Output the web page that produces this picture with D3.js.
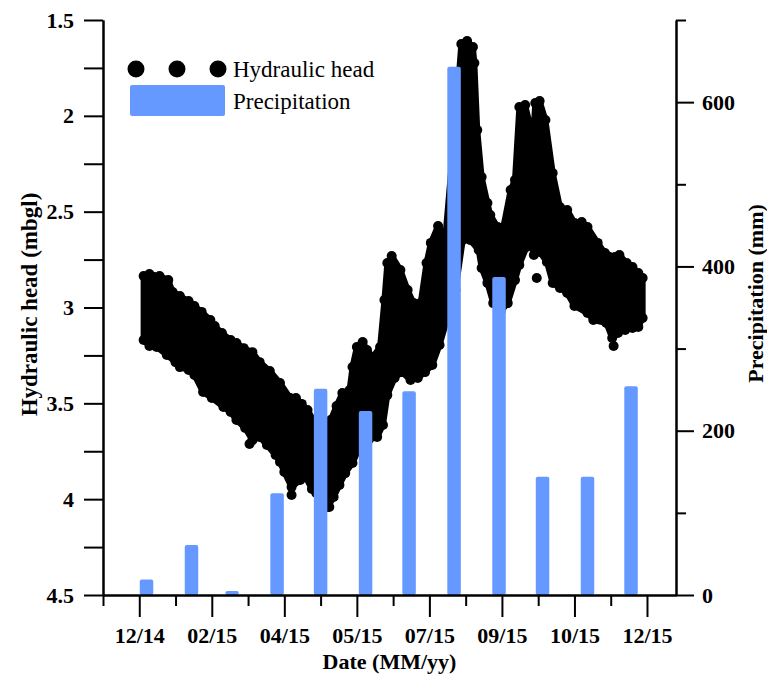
<!DOCTYPE html>
<html>
<head>
<meta charset="utf-8">
<script src="https://cdn.jsdelivr.net/npm/d3@7"></script>
<style>
  body { margin: 0; background: #fff; }
  svg text { font-family: "Liberation Serif", "Times New Roman", serif; }
</style>
</head>
<body>
<div id="chart"></div>
<script>
// monthly precipitation totals, dated at month end
const precipDates = ["2014-12-31", "2015-01-31", "2015-02-28", "2015-03-31", "2015-04-30", "2015-05-31",
    "2015-06-30", "2015-07-31", "2015-08-31", "2015-09-30", "2015-10-31", "2015-11-30"];
const precipValues = [19, 61, 5, 124, 251, 224, 248, 643, 387, 144, 144, 254];

// hydraulic head cloud: shallow edge (top of the band)
const headTopDates = ["2014-12-29", "2015-01-02", "2015-01-09", "2015-01-15", "2015-01-18", "2015-01-23",
    "2015-01-29", "2015-02-02", "2015-02-07", "2015-02-13", "2015-02-16", "2015-02-21", "2015-02-27",
    "2015-03-03", "2015-03-08", "2015-03-14", "2015-03-19", "2015-03-26", "2015-04-02", "2015-04-09",
    "2015-04-13", "2015-04-17", "2015-04-21", "2015-04-25", "2015-04-30", "2015-05-07", "2015-05-11",
    "2015-05-15", "2015-05-20", "2015-05-22", "2015-05-25", "2015-05-29", "2015-06-01", "2015-06-05",
    "2015-06-10", "2015-06-13", "2015-06-15", "2015-06-18", "2015-06-24", "2015-06-29", "2015-07-03",
    "2015-07-08", "2015-07-12", "2015-07-15", "2015-07-20", "2015-07-25", "2015-08-01", "2015-08-05",
    "2015-08-09", "2015-08-13", "2015-08-14", "2015-08-16", "2015-08-19", "2015-08-23", "2015-08-25",
    "2015-08-30", "2015-09-03", "2015-09-08", "2015-09-11", "2015-09-14", "2015-09-18", "2015-09-21",
    "2015-09-23", "2015-09-25", "2015-09-28", "2015-10-02", "2015-10-07", "2015-10-12", "2015-10-17",
    "2015-10-22", "2015-10-27", "2015-10-31", "2015-11-07", "2015-11-12", "2015-11-19", "2015-11-22",
    "2015-11-27", "2015-12-01", "2015-12-05", "2015-12-08"];
const headTopValues = [2.836, 2.825, 2.836, 2.857, 2.919, 2.940, 2.966, 2.992, 3.023, 3.065, 3.097, 3.133,
    3.170, 3.185, 3.212, 3.233, 3.285, 3.331, 3.394, 3.472, 3.472, 3.503, 3.535, 3.587, 3.618, 3.587,
    3.514, 3.446, 3.430, 3.310, 3.206, 3.180, 3.222, 3.258, 3.206, 2.961, 2.768, 2.731, 2.804, 2.909,
    2.976, 2.976, 2.768, 2.663, 2.575, 2.632, 2.022, 1.625, 1.610, 1.641, 1.724, 2.074, 2.319, 2.455,
    2.517, 2.580, 2.580, 2.387, 2.335, 1.954, 1.944, 2.037, 2.178, 1.933, 1.923, 2.022, 2.298, 2.476,
    2.491, 2.559, 2.554, 2.580, 2.663, 2.716, 2.737, 2.726, 2.768, 2.789, 2.820, 2.846];

// hydraulic head cloud: deep edge (bottom of the band)
const headLowDates = ["2014-12-29", "2015-01-02", "2015-01-07", "2015-01-14", "2015-01-20", "2015-01-23",
    "2015-01-29", "2015-02-02", "2015-02-08", "2015-02-14", "2015-02-22", "2015-02-27", "2015-03-03",
    "2015-03-09", "2015-03-14", "2015-03-19", "2015-03-24", "2015-03-30", "2015-04-02", "2015-04-05",
    "2015-04-10", "2015-04-16", "2015-04-19", "2015-04-24", "2015-04-27", "2015-05-01", "2015-05-05",
    "2015-05-09", "2015-05-13", "2015-05-17", "2015-05-22", "2015-05-27", "2015-06-02", "2015-06-08",
    "2015-06-12", "2015-06-15", "2015-06-20", "2015-06-25", "2015-07-01", "2015-07-06", "2015-07-11",
    "2015-07-16", "2015-07-21", "2015-07-26", "2015-08-01", "2015-08-06", "2015-08-11", "2015-08-17",
    "2015-08-19", "2015-08-23", "2015-08-27", "2015-09-01", "2015-09-06", "2015-09-11", "2015-09-14",
    "2015-09-19", "2015-09-21", "2015-09-24", "2015-09-28", "2015-10-03", "2015-10-07", "2015-10-12",
    "2015-10-17", "2015-10-22", "2015-10-31", "2015-11-04", "2015-11-13", "2015-11-17", "2015-11-21",
    "2015-11-26", "2015-12-01", "2015-12-05", "2015-12-08"];
const headLowValues = [3.170, 3.201, 3.206, 3.248, 3.285, 3.311, 3.326, 3.352, 3.441, 3.472, 3.519, 3.545,
    3.587, 3.629, 3.692, 3.676, 3.717, 3.770, 3.806, 3.858, 3.937, 3.900, 3.874, 3.947, 3.968, 4.030,
    4.041, 3.989, 3.926, 3.864, 3.811, 3.728, 3.691, 3.676, 3.613, 3.457, 3.368, 3.337, 3.378, 3.368,
    3.337, 3.300, 3.196, 3.065, 2.909, 2.648, 2.648, 2.700, 2.794, 2.872, 2.977, 3.023, 2.977, 2.857,
    2.778, 2.684, 2.627, 2.726, 2.710, 2.762, 2.872, 2.898, 2.924, 2.992, 3.029, 3.065, 3.081, 3.159,
    3.133, 3.117, 3.107, 3.102, 3.055];

// a few stray readings below the band
const headOutDates = ["2015-03-12", "2015-04-10", "2015-05-06", "2015-09-26", "2015-11-18"];
const headOutValues = [3.712, 3.978, 4.041, 2.846, 3.201];

const headTicks = [1.5, 2, 2.5, 3, 3.5, 4, 4.5];
const headMinor = [1.75, 2.25, 2.75, 3.25, 3.75, 4.25];
const precipTicks = [0, 200, 400, 600];
const precipMinor = [100, 300, 500, 700];
const dateTicks = ["2014-12-26", "2015-02-14", "2015-04-05", "2015-05-25", "2015-07-14", "2015-09-02",
    "2015-10-22", "2015-12-11"];
const dateMinor = ["2014-12-01", "2015-01-20", "2015-03-11", "2015-04-30", "2015-06-19", "2015-08-08",
    "2015-09-27", "2015-11-16"];
const dateTickLabels = ["12/14", "02/15", "04/15", "05/15", "07/15", "09/15", "10/15", "12/15"];

const parse = d3.timeParse("%Y-%m-%d");

const margin = { top: 20, right: 91, bottom: 85, left: 103 };
const W = 767, H = 680;
const width = W - margin.left - margin.right;
const height = H - margin.top - margin.bottom;

const svg = d3.select("#chart").append("svg")
    .attr("width", W)
    .attr("height", H);
const g = svg.append("g").attr("transform", `translate(${margin.left},${margin.top})`);

const x = d3.scaleTime()
    .domain([parse("2014-12-01"), parse("2015-12-31")])
    .range([0, width]);
const yHead = d3.scaleLinear().domain([1.5, 4.5]).range([0, height]);
const yPrec = d3.scaleLinear().domain([0, 700]).range([height, 0]);

// hydraulic head band
const topPts = headTopDates.map((d, i) => [parse(d), headTopValues[i]]);
const lowPts = headLowDates.map((d, i) => [parse(d), headLowValues[i]]);
const outPts = headOutDates.map((d, i) => [parse(d), headOutValues[i]]);

const bandLine = d3.line().x(d => x(d[0])).y(d => yHead(d[1]));
g.append("path")
    .attr("d", bandLine(topPts.concat(lowPts.slice().reverse())) + "Z")
    .attr("fill", "#000")
    .attr("stroke", "#000")
    .attr("stroke-width", 6)
    .attr("stroke-linejoin", "round");

g.selectAll(".dot")
    .data(topPts.concat(lowPts, outPts))
    .enter().append("circle")
    .attr("class", "dot")
    .attr("cx", d => x(d[0]))
    .attr("cy", d => yHead(d[1]))
    .attr("r", 5)
    .attr("fill", "#000");

// precipitation bars
const barW = 13.5;
g.selectAll(".bar")
    .data(precipDates.map((d, i) => [parse(d), precipValues[i]]))
    .enter().append("rect")
    .attr("class", "bar")
    .attr("x", d => x(d[0]) - barW / 2)
    .attr("y", d => yPrec(d[1]))
    .attr("width", barW)
    .attr("height", d => height - yPrec(d[1]))
    .attr("rx", 2)
    .attr("fill", "#6699ff");

// axes
function styleAxis(sel) {
    sel.selectAll("path, line").attr("stroke", "#000").attr("stroke-width", 2);
    sel.selectAll("text")
        .attr("fill", "#000")
        .style("font-size", "22px")
        .style("font-weight", "bold");
}

g.append("g")
    .call(d3.axisLeft(yHead).tickValues(headTicks).tickSize(19).tickSizeOuter(0)
        .tickPadding(10).tickFormat(d3.format("")))
    .call(styleAxis);
g.append("g")
    .call(d3.axisLeft(yHead).tickValues(headMinor).tickSize(19).tickSizeOuter(0).tickFormat(""))
    .call(styleAxis);

g.append("g")
    .attr("transform", `translate(${width},0)`)
    .call(d3.axisRight(yPrec).tickValues(precipTicks).tickSize(18).tickSizeOuter(0).tickPadding(8))
    .call(styleAxis);
g.append("g")
    .attr("transform", `translate(${width},0)`)
    .call(d3.axisRight(yPrec).tickValues(precipMinor).tickSize(10).tickSizeOuter(0).tickFormat(""))
    .call(styleAxis);

g.append("g")
    .attr("transform", `translate(0,${height})`)
    .call(d3.axisBottom(x).tickValues(dateTicks.map(parse)).tickSize(22).tickSizeOuter(0)
        .tickPadding(10).tickFormat((d, i) => dateTickLabels[i]))
    .call(styleAxis);
g.append("g")
    .attr("transform", `translate(0,${height})`)
    .call(d3.axisBottom(x).tickValues(dateMinor.map(parse)).tickSize(11).tickSizeOuter(0).tickFormat(""))
    .call(styleAxis);

// axis titles
g.append("text")
    .attr("transform", `translate(${29 - margin.left},${height / 2 - 3}) rotate(-90)`)
    .attr("text-anchor", "middle")
    .attr("dominant-baseline", "central")
    .style("font-size", "23px")
    .style("font-weight", "bold")
    .text("Hydraulic head (mbgl)");

g.append("text")
    .attr("transform", `translate(${width + 79},${height / 2 - 14}) rotate(-90)`)
    .attr("text-anchor", "middle")
    .attr("dominant-baseline", "central")
    .style("font-size", "22px")
    .style("font-weight", "bold")
    .text("Precipitation (mm)");

g.append("text")
    .attr("x", width / 2)
    .attr("y", height + 74)
    .attr("text-anchor", "middle")
    .style("font-size", "22px")
    .style("font-weight", "bold")
    .text("Date (MM/yy)");

// legend
const legend = svg.append("g");
[136, 177, 218].forEach(cx => {
    legend.append("circle").attr("cx", cx).attr("cy", 69).attr("r", 8.5).attr("fill", "#000");
});
legend.append("rect")
    .attr("x", 130).attr("y", 85).attr("width", 95).attr("height", 31)
    .attr("rx", 2).attr("fill", "#6699ff");
legend.append("text").attr("x", 233).attr("y", 77).style("font-size", "23px").text("Hydraulic head");
legend.append("text").attr("x", 233).attr("y", 109).style("font-size", "23px").text("Precipitation");
</script>
</body>
</html>
